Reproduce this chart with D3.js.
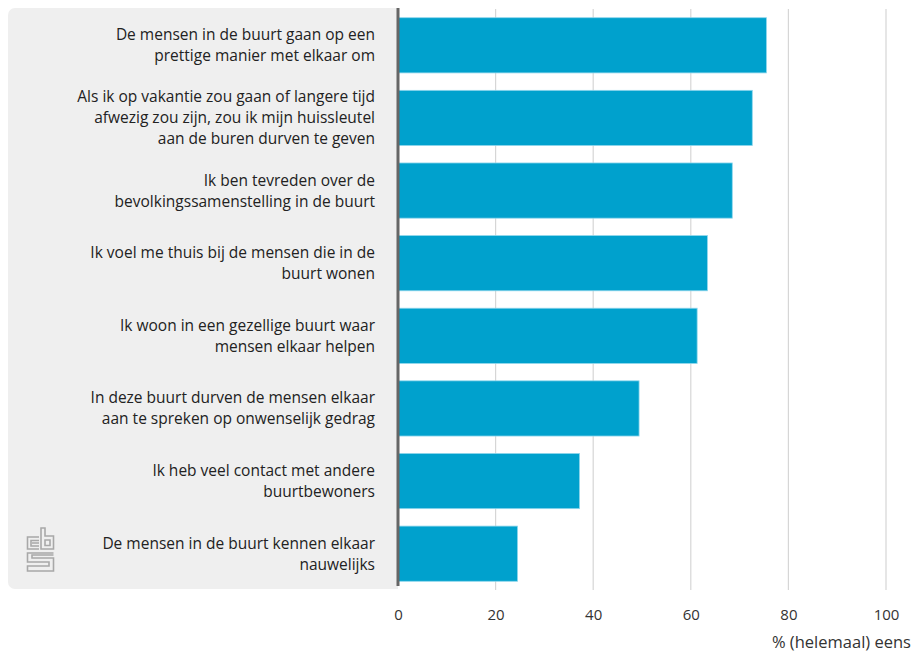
<!DOCTYPE html>
<html><head><meta charset="utf-8">
<script src="https://cdn.jsdelivr.net/npm/d3@7"></script>
<style>
body{margin:0;background:#fff;}
svg text{font-family:"Open Sans",sans-serif;}
</style></head>
<body><svg id="c" width="917" height="655"></svg>
<script>
const categories = [
  ["De mensen in de buurt gaan op een","prettige manier met elkaar om"],
  ["Als ik op vakantie zou gaan of langere tijd","afwezig zou zijn, zou ik mijn huissleutel","aan de buren durven te geven"],
  ["Ik ben tevreden over de","bevolkingssamenstelling in de buurt"],
  ["Ik voel me thuis bij de mensen die in de","buurt wonen"],
  ["Ik woon in een gezellige buurt waar","mensen elkaar helpen"],
  ["In deze buurt durven de mensen elkaar","aan te spreken op onwenselijk gedrag"],
  ["Ik heb veel contact met andere","buurtbewoners"],
  ["De mensen in de buurt kennen elkaar","nauwelijks"]
];
const values = [75.5, 72.6, 68.5, 63.4, 61.3, 49.4, 37.2, 24.5];
const ticks = [0, 20, 40, 60, 80, 100];
const axisTitle = "% (helemaal) eens";

const svg = d3.select("#c");
const x = d3.scaleLinear().domain([0, 100]).range([398, 886]);
const y = d3.scaleBand().domain(d3.range(categories.length)).range([9, 590]).paddingInner(0.24).paddingOuter(0.12);

// gray label panel
svg.append("rect").attr("x", 8).attr("y", 8).attr("width", 400).attr("height", 581)
  .attr("rx", 7).attr("fill", "#efefef");
svg.append("rect").attr("x", 398).attr("y", 8).attr("width", 20).attr("height", 582).attr("fill", "#fff");

// gridlines
svg.append("g").selectAll("line").data(ticks.filter(t => t > 0)).join("line")
  .attr("x1", d => x(d)).attr("x2", d => x(d)).attr("y1", 9).attr("y2", 590)
  .attr("stroke", "#d6d6d6").attr("stroke-width", 1.2);

// bars
svg.append("g").selectAll("rect").data(values).join("rect")
  .attr("x", x(0)).attr("y", (d, i) => y(i)).attr("width", d => x(d) - x(0)).attr("height", y.bandwidth())
  .attr("fill", "#00a1cd").attr("stroke", "#8fd6ec").attr("stroke-width", 0.8);

// axis line
svg.append("line").attr("x1", 398).attr("x2", 398).attr("y1", 8).attr("y2", 586)
  .attr("stroke", "#666").attr("stroke-width", 3);

// labels
const lh = 21;
const lab = svg.append("g").selectAll("text").data(categories).join("text")
  .attr("text-anchor", "end").attr("fill", "#222").attr("font-size", 15.5)
  .attr("y", (d, i) => y(i) + y.bandwidth() / 2 - (d.length - 1) * lh / 2 + 5.5);
lab.selectAll("tspan").data(d => d).join("tspan")
  .attr("x", 375).attr("dy", (d, i) => i === 0 ? 0 : lh).text(d => d);

// x axis
const ax = svg.append("g").attr("transform", "translate(0,590)")
  .call(d3.axisBottom(x).tickValues(ticks).tickSize(0).tickPadding(19));
ax.select(".domain").remove();
ax.selectAll("text").attr("font-size", 15).attr("fill", "#333").attr("font-family", '"Open Sans",sans-serif');

svg.append("text").attr("x", 911).attr("y", 648).attr("text-anchor", "end")
  .attr("font-size", 16.5).attr("fill", "#333").text(axisTitle);

// CBS logo
const lg = svg.append("g").attr("fill", "none").attr("stroke", "#a8a8a8").attr("stroke-width", 1.6);
lg.append("path").attr("d", "M39,537 H27.5 V549 H39 M39,543 H32 M39,540.5 H31 V546 H39");
lg.append("path").attr("d", "M41,528 H45 V536 H53.5 V549 H41 Z M45,540 H50 V545.5 H45 Z");
lg.append("path").attr("d", "M53.5,553 H27.5 V562 H49 V566 H27.5 V571 H53.5 V558 H32 V555 H53.5");
</script></body></html>
